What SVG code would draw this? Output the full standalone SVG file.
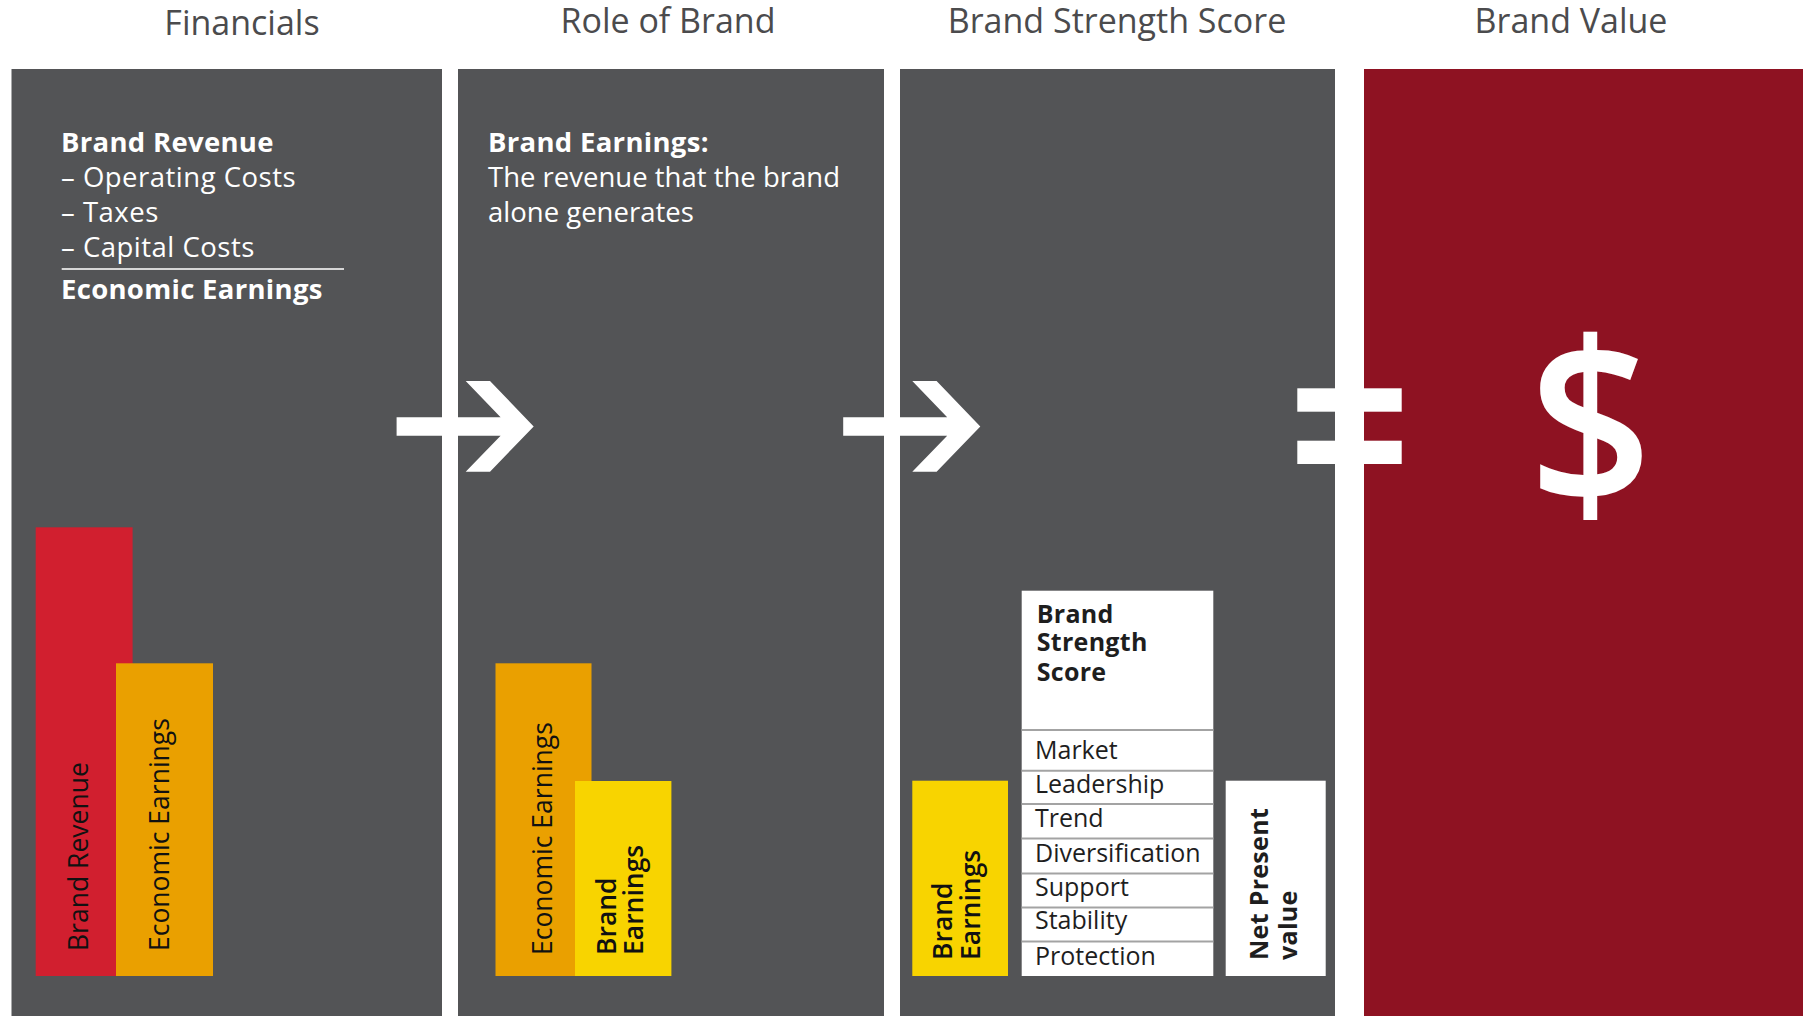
<svg xmlns="http://www.w3.org/2000/svg" width="1808" height="1017" viewBox="0 0 1808 1017">
  <style>
    .title { font-family: "Open Sans", "Liberation Sans", sans-serif; font-size: 34px; fill: #4b4b4d; text-anchor: middle; }
    .panel { fill: #535456; }
    .ptxt { font-family: "Open Sans", "Liberation Sans", sans-serif; font-size: 27.5px; fill: #ffffff; letter-spacing: 0.5px; }
    .tight { letter-spacing: 0; }
    .b { font-weight: 700; letter-spacing: 0.3px; }
    .sb { font-weight: 600; }
    .bar { font-family: "Open Sans", "Liberation Sans", sans-serif; font-size: 26.5px; fill: #111111; }
    .row { font-family: "Open Sans", "Liberation Sans", sans-serif; font-size: 25px; fill: #1e1e1e; }
    .sep { stroke: #a3a3a3; stroke-width: 2; }
    .red { fill: #d11f2f; }
    .orange { fill: #eaa000; }
    .yellow { fill: #f8d400; }
    .white { fill: #ffffff; }
  </style>
  <defs>
    <!-- white arrow: bar joined to a chevron head -->
    <path id="arrow" d="M396.6 417.3 H500.6 L465.7 381 H490 L533.7 426.5 L490 471.7 H465.7 L500.6 435.7 H396.6 Z" fill="#ffffff"/>
  </defs>

  <rect width="1808" height="1017" fill="#ffffff"/>

  <!-- column titles -->
  <text class="title" x="242" y="35">Financials</text>
  <text class="title" x="668" y="32.5">Role of Brand</text>
  <text class="title" x="1117" y="32.5">Brand Strength Score</text>
  <text class="title" x="1571" y="32.5">Brand Value</text>

  <!-- Financials -->
  <g id="financials">
    <rect class="panel" x="11.5" y="69" width="430.5" height="947"/>
    <text class="ptxt b" x="61" y="151.5">Brand Revenue</text>
    <text class="ptxt" x="61" y="186.5">– Operating Costs</text>
    <text class="ptxt" x="61" y="221.5">– Taxes</text>
    <text class="ptxt" x="61" y="256.5">– Capital Costs</text>
    <line x1="61.7" y1="269" x2="344" y2="269" stroke="#d6d6d6" stroke-width="2"/>
    <text class="ptxt b" x="61" y="298.5">Economic Earnings</text>
    <rect class="red" x="35.7" y="527.3" width="96.9" height="448.7"/>
    <rect class="orange" x="116" y="663.3" width="97" height="312.7"/>
    <text class="bar" transform="translate(87.5 951) rotate(-90)">Brand Revenue</text>
    <text class="bar" transform="translate(168.5 951) rotate(-90)">Economic Earnings</text>
  </g>

  <!-- Role of Brand -->
  <g id="role-of-brand">
    <rect class="panel" x="458" y="69" width="426" height="947"/>
    <text class="ptxt b" x="488" y="151.5">Brand Earnings:</text>
    <text class="ptxt tight" x="488" y="186.5">The revenue that the brand</text>
    <text class="ptxt tight" x="488" y="221.5">alone generates</text>
    <rect class="orange" x="495.5" y="663.3" width="96" height="312.7"/>
    <rect class="yellow" x="575" y="781" width="96.4" height="195"/>
    <text class="bar" transform="translate(552 955) rotate(-90)">Economic Earnings</text>
    <text class="bar sb" transform="translate(616 955) rotate(-90)">Brand</text>
    <text class="bar sb" transform="translate(643 955) rotate(-90)">Earnings</text>
  </g>

  <!-- Brand Strength Score -->
  <g id="brand-strength-score">
    <rect class="panel" x="900" y="69" width="435" height="947"/>
    <rect class="yellow" x="912.3" y="780.7" width="95.7" height="195.3"/>
    <text class="bar sb" transform="translate(951.7 960) rotate(-90)">Brand</text>
    <text class="bar sb" transform="translate(979.5 960) rotate(-90)">Earnings</text>

    <rect class="white" x="1021.7" y="590.7" width="191.6" height="385.3"/>
    <text class="row b" x="1036.7" y="623.3">Brand</text>
    <text class="row b" x="1036.7" y="651">Strength</text>
    <text class="row b" x="1036.7" y="680.7">Score</text>
    <line class="sep" x1="1021.7" y1="730" x2="1213.3" y2="730"/>
    <line class="sep" x1="1021.7" y1="770.8" x2="1213.3" y2="770.8"/>
    <line class="sep" x1="1021.7" y1="804" x2="1213.3" y2="804"/>
    <line class="sep" x1="1021.7" y1="838.5" x2="1213.3" y2="838.5"/>
    <line class="sep" x1="1021.7" y1="873.5" x2="1213.3" y2="873.5"/>
    <line class="sep" x1="1021.7" y1="907.5" x2="1213.3" y2="907.5"/>
    <line class="sep" x1="1021.7" y1="941.5" x2="1213.3" y2="941.5"/>
    <text class="row" x="1035" y="759">Market</text>
    <text class="row" x="1035" y="793.3">Leadership</text>
    <text class="row" x="1035" y="826.7">Trend</text>
    <text class="row" x="1035" y="861.7">Diversification</text>
    <text class="row" x="1035" y="896">Support</text>
    <text class="row" x="1035" y="929.3">Stability</text>
    <text class="row" x="1035" y="965">Protection</text>

    <rect class="white" x="1225.7" y="780.7" width="100" height="195.3"/>
    <text class="row b" transform="translate(1268.3 960) rotate(-90)">Net Present</text>
    <text class="row b" transform="translate(1296.7 960) rotate(-90)">value</text>
  </g>

  <!-- Brand Value -->
  <g id="brand-value">
    <rect x="1364" y="69" width="439" height="947" fill="#8e1222"/>
    <text transform="translate(1590.5 507) scale(0.94 1)" font-family="'Open Sans', 'Liberation Sans', sans-serif" font-size="230" font-weight="600" fill="#ffffff" text-anchor="middle">$</text>
  </g>

  <!-- connectors between the columns -->
  <g id="connectors">
    <use href="#arrow"/>
    <use href="#arrow" transform="translate(446.6 0)"/>
    <rect x="1297.3" y="388.3" width="104.4" height="23.4" fill="#ffffff"/>
    <rect x="1297.3" y="440.7" width="104.4" height="23.3" fill="#ffffff"/>
  </g>
</svg>
